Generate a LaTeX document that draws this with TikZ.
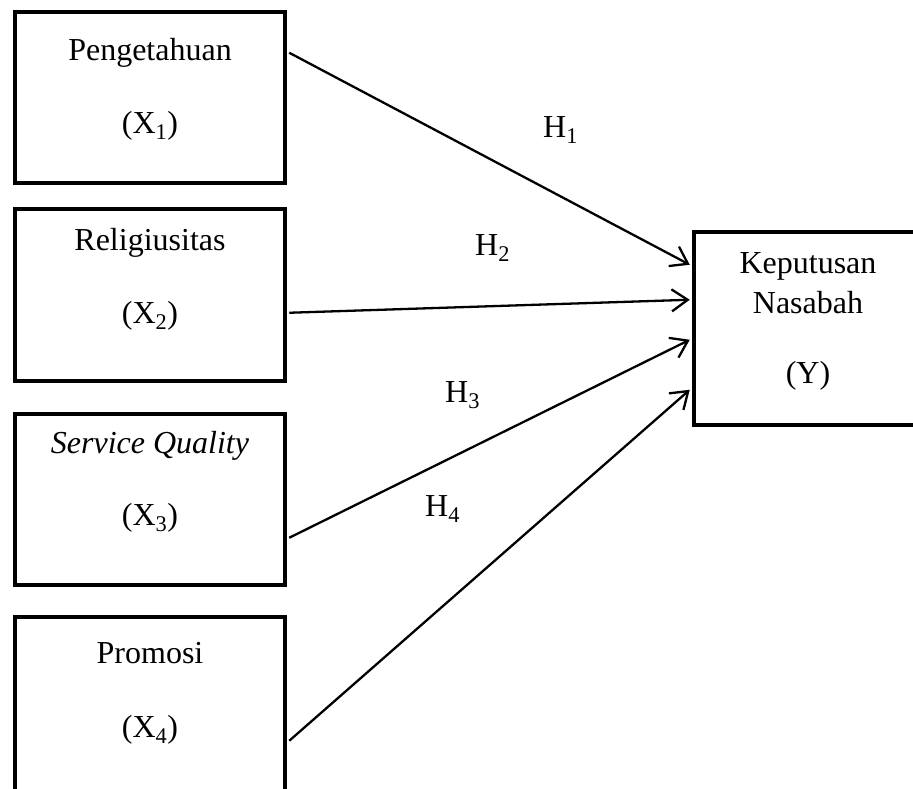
\documentclass[tikz,border=0pt]{standalone}
\usepackage{fontspec}
\setmainfont{Liberation Serif}
\usetikzlibrary{arrows.meta,calc}
\begin{document}
\begin{tikzpicture}[x=1pt,y=-1pt,
  box/.style={draw,line width=4.5pt,minimum width=270pt,inner sep=0pt},
  lbl/.style={font=\fontsize{32}{38}\selectfont,inner sep=0pt,anchor=base},
  hlbl/.style={font=\fontsize{32}{38}\selectfont,inner sep=0pt,anchor=base west},
  conn/.style={line width=2.3pt,-{Straight Barb[length=16pt,width=22pt]}}]
\useasboundingbox (0,0) rectangle (913,788);
\clip (0,0) rectangle (913,788);
% boxes
\node[box,minimum height=171pt] (b1) at (150,97.5) {};
\node[box,minimum height=172pt] (b2) at (150,295) {};
\node[box,minimum height=171pt] (b3) at (150,499.5) {};
\node[box,minimum height=183pt] (b4) at (150,708.5) {};
\node[box,minimum width=241pt,minimum height=193pt] (y) at (814.5,328.5) {};
% texts
\node[lbl] (t1a) at (150,60) {Pengetahuan};
\node[lbl] (t1b) at (150,133) {(X\textsubscript{1})};
\node[lbl] (t2a) at (150,250) {Religiusitas};
\node[lbl] (t2b) at (150,323) {(X\textsubscript{2})};
\node[lbl] (t3a) at (150,453) {\textit{Service Quality}};
\node[lbl] (t3b) at (150,525) {(X\textsubscript{3})};
\node[lbl] (t4a) at (150,663) {Promosi};
\node[lbl] (t4b) at (150,737) {(X\textsubscript{4})};
\node[lbl] (tya) at (808,273) {Keputusan};
\node[lbl] (tyb) at (808,313) {Nasabah};
\node[lbl] (tyc) at (808,383) {(Y)};
% hypothesis labels
\node[hlbl] (h1) at (543,137) {H\textsubscript{1}};
\node[hlbl] (h2) at (475,255) {H\textsubscript{2}};
\node[hlbl] (h3) at (445,402) {H\textsubscript{3}};
\node[hlbl] (h4) at (425,516) {H\textsubscript{4}};
% connectors
\draw[conn] ($(b1.north east)+(2,43)$) -- ($(y.north west)+(-2,35)$);
\draw[conn] ($(b2.north east)+(2,106)$) -- ($(y.north west)+(-2,70)$);
\draw[conn] ($(b3.north east)+(2,126)$) -- ($(y.north west)+(-2,110)$);
\draw[conn] ($(b4.north east)+(2,126)$) -- ($(y.north west)+(-2,160)$);
\end{tikzpicture}
\end{document}
